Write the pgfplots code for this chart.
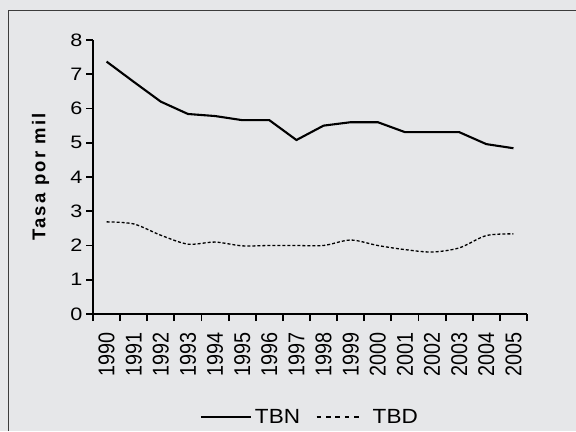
\documentclass[border=0pt]{standalone}
\usepackage{fontspec}
\setmainfont{Liberation Sans}
\newfontfamily\fytick[FakeStretch=1.2]{Liberation Sans}
\newfontfamily\fleg[FakeStretch=1.1]{Liberation Sans}
\newfontfamily\flab[LetterSpace=12]{Liberation Sans}
\usepackage{pgfplots}
\pgfplotsset{compat=1.18}
\definecolor{bg}{RGB}{230,231,233}
\definecolor{frm}{RGB}{60,60,60}
\begin{document}
\begin{tikzpicture}[x=1bp,y=1bp]
\fill[bg] (0,0) rectangle (576,431);
\path[use as bounding box] (0,0) rectangle (576,431);
\draw[frm, line width=1bp] (8.5,0) -- (8.5,420.5) -- (576,420.5);
\begin{axis}[
  at={(93bp,117bp)}, anchor=south west,
  width=434bp, height=274bp, scale only axis,
  xmin=-0.5, xmax=15.5, ymin=0, ymax=8,
  axis x line*=bottom, axis y line*=left,
  axis line style={line width=2bp, black},
  tick align=outside,
  major tick length=7bp,
  every tick/.style={line width=1.8bp, black},
  xtick={-0.5,0.5,1.5,2.5,3.5,4.5,5.5,6.5,7.5,8.5,9.5,10.5,11.5,12.5,13.5,14.5,15.5},
  xticklabels={},
  extra x ticks={0,1,2,3,4,5,6,7,8,9,10,11,12,13,14,15},
  extra x tick labels={1990,1991,1992,1993,1994,1995,1996,1997,1998,1999,2000,2001,2002,2003,2004,2005},
  extra x tick style={major tick length=0pt,
    xticklabel style={font=\fontsize{19.8bp}{24bp}\selectfont, inner sep=0pt,
      yshift=-18bp, rotate=90, yscale=1.15, anchor=east}},
  ytick={0,1,2,3,4,5,6,7,8},
  /pgf/number format/assume math mode=true,
  yticklabel style={font=\fytick\fontsize{18bp}{22bp}\selectfont},
  ylabel={Tasa por mil},
  every axis y label/.style={at={(axis description cs:-0.121,0.5)}, rotate=90, anchor=center,
    font=\flab\bfseries\fontsize{18.5bp}{22bp}\selectfont},
  clip=false,
  legend style={at={(axis description cs:0.2465,-0.376)}, anchor=west,
    inner sep=0pt, outer sep=0pt, draw=none, fill=none,
    font=\fleg\fontsize{20.5bp}{24bp}\selectfont,
    nodes={inner xsep=3bp, inner ysep=0pt},
    legend columns=2, /tikz/every even column/.append style={column sep=13bp}},
]
\addplot[black, line width=2.1bp,
  legend image code/.code={\draw[black, solid, line width=2bp] (0bp,0bp) -- (50bp,0bp);}]
  coordinates {(0,7.37) (1,6.78) (2,6.2) (3,5.84) (4,5.78) (5,5.66) (6,5.66) (7,5.08)
  (8,5.5) (9,5.6) (10,5.6) (11,5.31) (12,5.31) (13,5.31) (14,4.96) (15,4.84)};
\addlegendentry{TBN}
\addplot[black, line width=1.3bp, smooth, dash pattern=on 3bp off 2bp,
  legend image code/.code={
    \draw[black, line width=1.3bp, dash pattern=on 4.5bp off 4.875bp] (0bp,0bp) -- (42bp,0bp);
    \path[draw=none, fill=none] (0bp,-2bp) rectangle (53bp,2bp);}]
  coordinates {(0,2.69) (1,2.63) (2,2.3) (3,2.04) (4,2.1) (5,1.99) (6,2.0) (7,2.0)
  (8,2.0) (9,2.16) (10,2.0) (11,1.88) (12,1.81) (13,1.93) (14,2.29) (15,2.34)};
\addlegendentry{TBD}
\end{axis}
\end{tikzpicture}
\end{document}
